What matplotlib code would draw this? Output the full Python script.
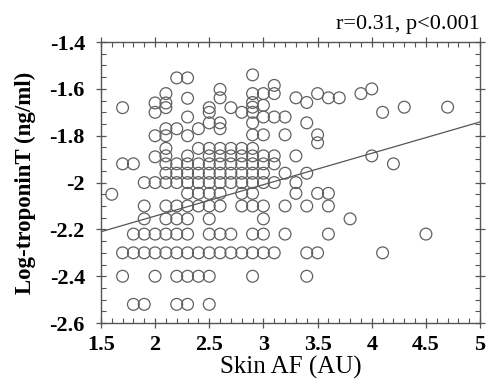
import numpy as np
import matplotlib
matplotlib.use("Agg")
import matplotlib.pyplot as plt
from matplotlib.ticker import AutoMinorLocator, FormatStrFormatter, MultipleLocator

plt.rcParams['font.family'] = ['Liberation Serif', 'DejaVu Serif']
plt.rcParams['axes.unicode_minus'] = False

# skin autofluorescence (AU) and log troponin T, read column by column
skin_af = (
    [1.6] +
    [1.7] * 4 +
    [1.8] * 4 +
    [1.9] * 6 +
    [2.0] * 8 +
    [2.1] * 14 +
    [2.2] * 11 +
    [2.3] * 15 +
    [2.4] * 9 +
    [2.5] * 15 +
    [2.6] * 13 +
    [2.7] * 8 +
    [2.8] * 9 +
    [2.9] * 17 +
    [3.0] * 12 +
    [3.1] * 7 +
    [3.2] * 5 +
    [3.3] * 4 +
    [3.4] * 6 +
    [3.5] * 5 +
    [3.6] * 4 +
    [3.7, 3.8, 3.9, 4.0, 4.0, 4.1, 4.1, 4.2, 4.3, 4.5, 4.7]
)
log_tnt = (
    [-2.05] +
    [-1.68, -1.92, -2.30, -2.40] +
    [-1.92, -2.22, -2.30, -2.52] +
    [-2.00, -2.10, -2.155, -2.22, -2.30, -2.52] +
    [-1.66, -1.70, -1.80, -1.89, -2.00, -2.22, -2.30, -2.40] +
    [-1.62, -1.66, -1.68, -1.77, -1.80, -1.854, -1.886, -1.92, -1.96, -2.00, -2.10, -2.155, -2.22, -2.30] +
    [-1.553, -1.77, -1.92, -1.96, -2.00, -2.10, -2.155, -2.22, -2.30, -2.40, -2.52] +
    [-1.553, -1.64, -1.72, -1.80, -1.886, -1.92, -1.96, -2.00, -2.046, -2.10, -2.155, -2.22, -2.30, -2.40, -2.52] +
    [-1.77, -1.854, -1.92, -1.96, -2.00, -2.046, -2.10, -2.30, -2.40] +
    [-1.68, -1.70, -1.745, -1.854, -1.886, -1.92, -1.96, -2.00, -2.046, -2.10, -2.155, -2.22, -2.30, -2.40, -2.52] +
    [-1.602, -1.638, -1.745, -1.77, -1.854, -1.886, -1.92, -1.96, -2.00, -2.046, -2.10, -2.22, -2.30] +
    [-1.68, -1.854, -1.886, -1.92, -1.96, -2.00, -2.22, -2.30] +
    [-1.70, -1.854, -1.886, -1.92, -1.96, -2.00, -2.046, -2.10, -2.30] +
    [-1.54, -1.62, -1.658, -1.678, -1.70, -1.745, -1.796, -1.854, -1.886, -1.92, -1.96, -2.00, -2.046, -2.10, -2.22, -2.30, -2.40] +
    [-1.62, -1.67, -1.72, -1.796, -1.886, -1.92, -1.96, -2.00, -2.10, -2.155, -2.22, -2.30] +
    [-1.585, -1.62, -1.72, -1.886, -1.92, -2.00, -2.30] +
    [-1.72, -1.796, -1.96, -2.10, -2.22] +
    [-1.638, -1.886, -2.00, -2.046] +
    [-1.658, -1.745, -1.96, -2.10, -2.30, -2.40] +
    [-1.62, -1.796, -1.83, -2.046, -2.30] +
    [-1.638, -2.046, -2.10, -2.22] +
    [-1.638, -2.155, -1.62, -1.60, -1.886, -1.70, -2.30, -1.92, -1.678, -2.22, -1.678]
)

# regression line
fit_slope = 0.134
fit_intercept = -2.411
fit_x = [1.5, 5.0]

fig = plt.figure(figsize=(4.97, 3.86), dpi=100)
ax = fig.add_axes([0.203, 0.163, 0.763, 0.728])

ax.scatter(skin_af, log_tnt, s=72, facecolors='none', edgecolors='#606060', linewidths=0.9, zorder=3)
fx = np.array(fit_x)
ax.plot(fx, fit_intercept + fit_slope * fx, color='#555555', lw=0.9, zorder=2)

ax.set_xlim(1.5, 5)
ax.set_ylim(-2.6, -1.4)
ax.xaxis.set_major_locator(MultipleLocator(0.5))
ax.yaxis.set_major_locator(MultipleLocator(0.2))
ax.xaxis.set_minor_locator(AutoMinorLocator(5))
ax.yaxis.set_minor_locator(AutoMinorLocator(4))
ax.xaxis.set_major_formatter(FormatStrFormatter('%g'))
ax.yaxis.set_major_formatter(FormatStrFormatter('%g'))

for s in ax.spines.values():
    s.set_color('#555555')
    s.set_linewidth(1.0)
ax.tick_params(which='major', direction='inout', length=7, width=0.9, color='#555555',
               top=True, right=True, labelsize=16)
ax.tick_params(axis='y', which='major', pad=8)
ax.tick_params(axis='x', which='major', pad=5)
ax.tick_params(which='minor', direction='in', length=3.5, width=0.8, color='#555555',
               top=True, right=True)
for lab in ax.get_xticklabels() + ax.get_yticklabels():
    lab.set_fontweight('bold')

ax.set_xlabel('Skin AF (AU)', fontsize=18, labelpad=1)
ax.set_ylabel('Log-troponinT (ng/ml)', fontsize=16.5, fontweight='bold', labelpad=10)
ax.text(1.0, 1.03, 'r=0.31, p<0.001', transform=ax.transAxes, ha='right', va='bottom', fontsize=16)

fig.savefig('out.png', dpi=100)
